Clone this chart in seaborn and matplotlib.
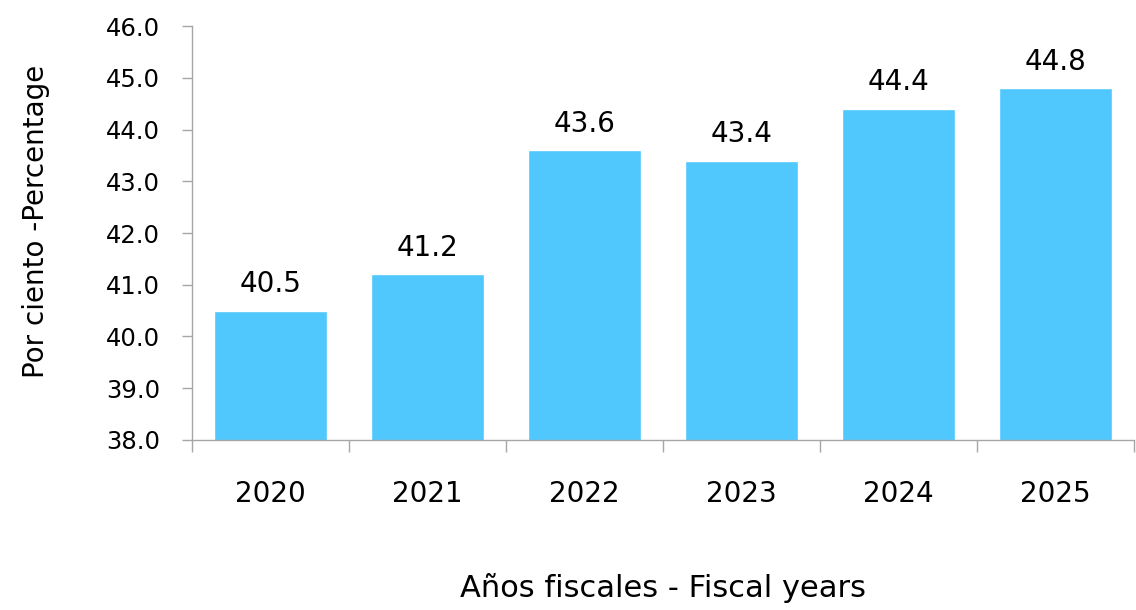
"""bar chart: share per fiscal year"""

import matplotlib
matplotlib.use('Agg')
import matplotlib.pyplot as plt
from matplotlib.ticker import FixedLocator
import seaborn as sns
import pandas as pd
import numpy as np

# data
years = ['2020', '2021', '2022', '2023', '2024', '2025']
values = [40.5, 41.2, 43.6, 43.4, 44.4, 44.8]
y_ticks = [38.0, 39.0, 40.0, 41.0, 42.0, 43.0, 44.0, 45.0, 46.0]

BAR_COLOR = '#50C8FE'
SPINE_COLOR = '#A6A6A6'

df = pd.DataFrame({'year': years, 'value': values})

sns.set_style('white')
plt.rcParams['font.family'] = ['DejaVu Sans']
plt.rcParams['text.color'] = 'black'
plt.rcParams['axes.labelcolor'] = 'black'
plt.rcParams['xtick.color'] = 'black'
plt.rcParams['ytick.color'] = 'black'

fig = plt.figure(figsize=(11.36, 6.10), dpi=100)
ax = fig.add_axes([0.169, 0.279, 0.829, 0.678])

sns.barplot(data=df, x='year', y='value', color=BAR_COLOR, saturation=1,
            width=0.72, ax=ax)

ax.set_ylim(38, 46)
ax.set_xlim(-0.5, 5.5)
ax.set_yticks(y_ticks)
ax.set_yticklabels([f'{t:.1f}' for t in y_ticks], fontsize=17.5)

# category labels without tick marks, boundary ticks as minor
ax.tick_params(axis='x', which='major', bottom=True, length=0, pad=29, labelsize=20)
ax.xaxis.set_minor_locator(FixedLocator(np.arange(-0.5, 6, 1)))
ax.tick_params(axis='x', which='minor', bottom=True, length=8.5, width=1, color=SPINE_COLOR)
ax.tick_params(axis='y', left=True, length=7, width=1, color=SPINE_COLOR, pad=16)

for side in ['top', 'right']:
    ax.spines[side].set_visible(False)
for side in ['left', 'bottom']:
    ax.spines[side].set_color(SPINE_COLOR)
    ax.spines[side].set_linewidth(1)

ax.bar_label(ax.containers[0], fmt='%.1f', padding=9, fontsize=20)

ax.set_xlabel('Años fiscales - Fiscal years', fontsize=22, labelpad=47)
ax.set_ylabel('Por ciento -Percentage', fontsize=20)
ax.yaxis.set_label_coords(-0.151, 0.527)

plt.savefig('out.png', dpi=100)
